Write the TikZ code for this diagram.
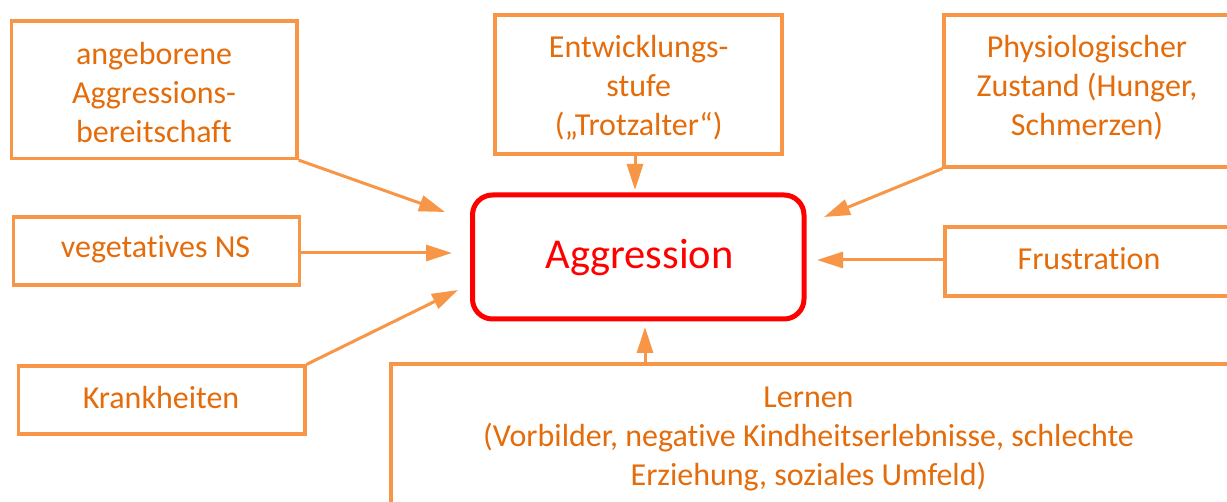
\documentclass[tikz,border=0pt]{standalone}
\usepackage{fontspec}
\setmainfont{Carlito}[Ligatures={NoCommon}]
\usetikzlibrary{arrows.meta}
\definecolor{boxorange}{HTML}{F79646}
\definecolor{textorange}{HTML}{E46C0A}
\definecolor{aggred}{HTML}{FF0000}
\newcommand{\fs}{\rule{0pt}{30pt}}
\begin{document}
\begin{tikzpicture}[x=1pt,y=-1pt,
  box/.style={draw=boxorange,line width=3.2pt,rectangle,inner sep=0pt,fill=white},
  lbl/.style={text=textorange,align=center,anchor=north,inner sep=0pt,font=\fontsize{32}{39}\selectfont},
  arr/.style={draw=boxorange,line width=3pt,-{Triangle[length=26pt,width=16pt]}}]
\useasboundingbox (0,0) rectangle (1227,502);
\clip (0,0) rectangle (1227,502);
\fill[white] (0,0) rectangle (1227,502);
% boxes
\node[box,minimum width=285.5pt,minimum height=137.5pt] (b1) at (154.25,89.75) {};
\node[box,minimum width=287pt,minimum height=139pt] (b2) at (638.5,84.5) {};
\node[box,minimum width=286pt,minimum height=152pt] (b3) at (1087,91) {};
\node[box,minimum width=286pt,minimum height=68pt] (b4) at (156.7,251) {};
\node[box,minimum width=288pt,minimum height=69pt] (b5) at (1089,261.5) {};
\node[box,minimum width=286.5pt,minimum height=68pt] (b6) at (161.75,400) {};
\node[box,minimum width=860pt,minimum height=160pt] (b7) at (821,444) {};
\node[draw=aggred,line width=5pt,rounded corners=20pt,minimum width=331.5pt,minimum height=124pt,inner sep=0pt] (agg) at (638.25,257) {};
% texts
\node[lbl] (t1) at (154,34) {\fs angeborene\\Aggressions-\\bereitschaft};
\node[lbl] (t2) at (638.7,27) {\fs Entwicklungs-\\stufe\\(„Trotzalter“)};
\node[lbl] (t3) at (1087,27) {\fs Physiologischer\\Zustand (Hunger,\\Schmerzen)};
\node[lbl] (t4) at (155.5,227) {\fs vegetatives NS};
\node[lbl] (t5) at (1089,239) {\fs Frustration};
\node[lbl] (t6) at (161,378) {\fs Krankheiten};
\node[lbl] (t7) at (808.5,377) {\fs Lernen\\(Vorbilder, negative Kindheitserlebnisse, schlechte\\Erziehung, soziales Umfeld)};
\node[text=aggred,anchor=base,inner sep=0pt,font=\fontsize{42.5}{50}\selectfont] (ta) at (639.5,269) {Aggression};
% arrow tips
\coordinate (c1) at (445,212);
\coordinate (c2) at (452,253);
\coordinate (c3) at (458,290);
\coordinate (c4) at (635,190);
\coordinate (c5) at (824,217);
\coordinate (c6) at (817,260);
\coordinate (c7) at (645,327);
% connectors
\draw[arr] (b1.south east) -- (c1);
\draw[arr] (b4.east |- c2) -- (c2);
\draw[arr] (b6.north east) -- (c3);
\draw[arr] (c4 |- b2.south) -- (c4);
\draw[arr] (b3.south west) -- (c5);
\draw[arr] (b5.west |- c6) -- (c6);
\draw[arr] (c7 |- b7.north) -- (c7);
\end{tikzpicture}
\end{document}
